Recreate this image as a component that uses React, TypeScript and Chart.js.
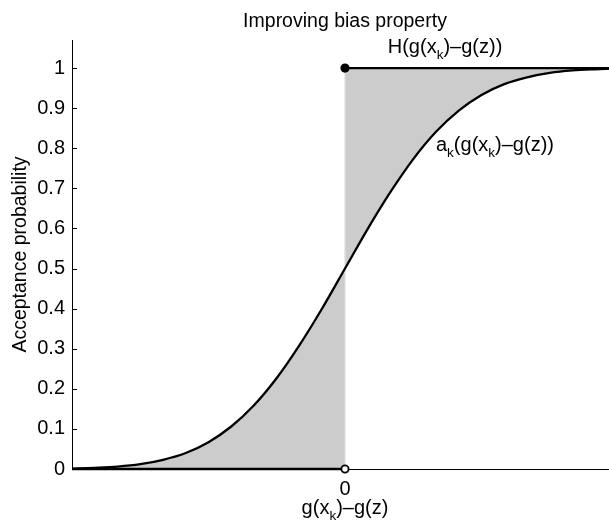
import { useEffect, useRef } from "react";
import { Chart, registerables } from "chart.js";

Chart.register(...registerables);

// ---- data ----
const titleText = "Improving bias property";
const yAxisTitle = "Acceptance probability";

const curveX = [-3, -2.75, -2.5, -2.25, -2, -1.75, -1.5, -1.25, -1, -0.75, -0.5, -0.25, 0, 0.25, 0.5, 0.75, 1, 1.25, 1.5, 1.75, 2, 2.25, 2.5, 2.75, 3];
const curveY = [0.001, 0.003, 0.006, 0.012, 0.023, 0.040, 0.067, 0.106, 0.159, 0.227, 0.309, 0.401, 0.5, 0.599, 0.691, 0.773, 0.841, 0.894, 0.933, 0.960, 0.977, 0.988, 0.994, 0.997, 0.999];

const stepLeftX = [-3, 0];
const stepLeftY = [0, 0];
const stepRightX = [0, 3];
const stepRightY = [1, 1];
const jumpX = [0, 0];
const jumpY = [0, 1];
const closedDotX = [0];
const closedDotY = [1];
const openDotX = [0];
const openDotY = [0];

const yTicks = [0, 0.1, 0.2, 0.3, 0.4, 0.5, 0.6, 0.7, 0.8, 0.9, 1];
const yTickLabels = ["0", "0.1", "0.2", "0.3", "0.4", "0.5", "0.6", "0.7", "0.8", "0.9", "1"];
const xTicks = [0];
const xTickLabels = ["0"];

type Part = [string, boolean];
const xTitleParts: Part[] = [["g(x", false], ["k", true], [")\u2013g(z)", false]];
const hLabelParts: Part[] = [["H(g(x", false], ["k", true], [")\u2013g(z))", false]];
const aLabelParts: Part[] = [["a", false], ["k", true], ["(g(x", false], ["k", true], [")\u2013g(z))", false]];

// anchor positions of the in-plot labels, in data coordinates
const hLabelAt = { x: 0.47, y: 1.037 };
const aLabelAt = { x: 1.0, y: 0.792 };

const FAMILY = '"Liberation Sans", Arial, Helvetica, sans-serif';
const MAIN_FONT = `20px ${FAMILY}`;
const TITLE_FONT = `19.5px ${FAMILY}`;
const SUB_FONT = `13.5px ${FAMILY}`;

const pts = (xs: number[], ys: number[]) => xs.map((x, i) => ({ x, y: ys[i] }));

function drawRich(ctx: CanvasRenderingContext2D, parts: Part[], x: number, y: number, align: "left" | "center") {
  let w = 0;
  parts.forEach(([t, s]) => {
    ctx.font = s ? SUB_FONT : MAIN_FONT;
    w += ctx.measureText(t).width;
  });
  let cx = align === "center" ? x - w / 2 : x;
  ctx.textAlign = "left";
  ctx.textBaseline = "alphabetic";
  parts.forEach(([t, s]) => {
    ctx.font = s ? SUB_FONT : MAIN_FONT;
    ctx.fillText(t, cx, s ? y + 6 : y);
    cx += ctx.measureText(t).width;
  });
}

const textPlugin = {
  id: "textPlugin",
  afterDatasetsDraw(chart: any) {
    const { ctx, chartArea, scales } = chart;
    const xs = scales.x;
    const ys = scales.y;
    ctx.save();
    ctx.fillStyle = "#000";
    // inward tick marks on the y axis
    ctx.strokeStyle = "#000";
    ctx.lineWidth = 1;
    ctx.beginPath();
    yTicks.forEach((v) => {
      const py = Math.round(ys.getPixelForValue(v)) + 0.5;
      ctx.moveTo(chartArea.left, py);
      ctx.lineTo(chartArea.left + 5, py);
    });
    ctx.stroke();
    // title
    const cxm = (chartArea.left + chartArea.right) / 2;
    ctx.font = TITLE_FONT;
    ctx.textAlign = "center";
    ctx.textBaseline = "alphabetic";
    ctx.fillText(titleText, cxm, chartArea.top - 13.3);
    // x axis title
    drawRich(ctx, xTitleParts, cxm, chartArea.bottom + 44.5, "center");
    // in-plot labels
    drawRich(ctx, hLabelParts, xs.getPixelForValue(hLabelAt.x), ys.getPixelForValue(hLabelAt.y), "left");
    drawRich(ctx, aLabelParts, xs.getPixelForValue(aLabelAt.x), ys.getPixelForValue(aLabelAt.y), "left");
    ctx.restore();
  },
};

export default function App() {
  const ref = useRef<HTMLCanvasElement | null>(null);

  useEffect(() => {
    if (!ref.current) return;
    const leftIdx = curveX.map((x, i) => (x <= 0 ? i : -1)).filter((i) => i >= 0);
    const rightIdx = curveX.map((x, i) => (x >= 0 ? i : -1)).filter((i) => i >= 0);
    const curvePts = pts(curveX, curveY);
    const leftPts = leftIdx.map((i) => curvePts[i]);
    const rightPts = rightIdx.map((i) => curvePts[i]);

    const lineBase = { pointRadius: 0, pointHoverRadius: 0, fill: false, tension: 0 };

    const chart = new Chart(ref.current, {
      type: "line",
      data: {
        datasets: [
          {
            ...lineBase,
            data: pts(openDotX, openDotY),
            showLine: false,
            pointRadius: 3.6,
            pointBackgroundColor: "#ffffff",
            pointBorderColor: "#000000",
            pointBorderWidth: 1.8,
            clip: false,
          } as any,
          {
            ...lineBase,
            data: pts(closedDotX, closedDotY),
            showLine: false,
            pointRadius: 4.6,
            pointBackgroundColor: "#000000",
            pointBorderColor: "#000000",
            pointBorderWidth: 0,
            clip: false,
          } as any,
          { ...lineBase, data: pts(stepRightX, stepRightY), borderColor: "#000", borderWidth: 2.2, clip: false } as any,
          { ...lineBase, data: pts(stepLeftX, stepLeftY), borderColor: "#000", borderWidth: 2.6, clip: false } as any,
          {
            ...lineBase,
            data: curvePts,
            borderColor: "#000",
            borderWidth: 2.3,
            cubicInterpolationMode: "monotone",
          } as any,
          { ...lineBase, data: pts(jumpX, jumpY), borderColor: "#dedede", borderWidth: 1.2 } as any,
          {
            ...lineBase,
            data: rightPts,
            borderWidth: 0,
            borderColor: "rgba(0,0,0,0)",
            backgroundColor: "#cccccc",
            fill: { value: 1 },
            cubicInterpolationMode: "monotone",
          } as any,
          {
            ...lineBase,
            data: leftPts,
            borderWidth: 0,
            borderColor: "rgba(0,0,0,0)",
            backgroundColor: "#cccccc",
            fill: "origin",
            cubicInterpolationMode: "monotone",
          } as any,
        ],
      },
      options: {
        animation: false,
        responsive: false,
        devicePixelRatio: 1,
        layout: { padding: { top: 40, right: 12, left: 0, bottom: 0 } },
        plugins: { legend: { display: false }, tooltip: { enabled: false }, title: { display: false } },
        events: [],
        scales: {
          x: {
            type: "linear",
            min: -3,
            max: 3,
            afterBuildTicks: (s: any) => {
              s.ticks = xTicks.map((v) => ({ value: v }));
            },
            afterFit: (s: any) => {
              s.height = 52;
            },
            ticks: {
              color: "#000",
              font: { family: FAMILY, size: 20 },
              padding: 8,
              maxRotation: 0,
              callback: (v: any) => {
                const i = xTicks.indexOf(Number(v));
                return i >= 0 ? xTickLabels[i] : "";
              },
            },
            grid: { display: true, drawOnChartArea: false, drawTicks: false },
            border: { display: true, color: "#000", width: 1 },
          },
          y: {
            type: "linear",
            min: 0,
            max: 1.07,
            afterBuildTicks: (s: any) => {
              s.ticks = yTicks.map((v) => ({ value: v }));
            },
            afterFit: (s: any) => {
              s.width = 72;
            },
            ticks: {
              color: "#000",
              font: { family: FAMILY, size: 20 },
              padding: 7,
              callback: (v: any) => {
                const i = yTicks.findIndex((t) => Math.abs(t - Number(v)) < 1e-9);
                return i >= 0 ? yTickLabels[i] : "";
              },
            },
            title: {
              display: true,
              text: yAxisTitle,
              color: "#000",
              font: { family: FAMILY, size: 19.5, lineHeight: 1.2 },
              padding: { top: 9, bottom: 0 },
            },
            grid: { display: true, drawOnChartArea: false, drawTicks: false },
            border: { display: true, color: "#000", width: 1 },
          },
        },
      } as any,
      plugins: [textPlugin],
    });
    return () => chart.destroy();
  }, []);

  return (
    <div style={{ position: "fixed", left: 0, top: 0, width: 609, height: 521, overflow: "hidden", background: "#fff" }}>
      <canvas ref={ref} width={630} height={521} style={{ display: "block", width: 630, height: 521 }} />
    </div>
  );
}
